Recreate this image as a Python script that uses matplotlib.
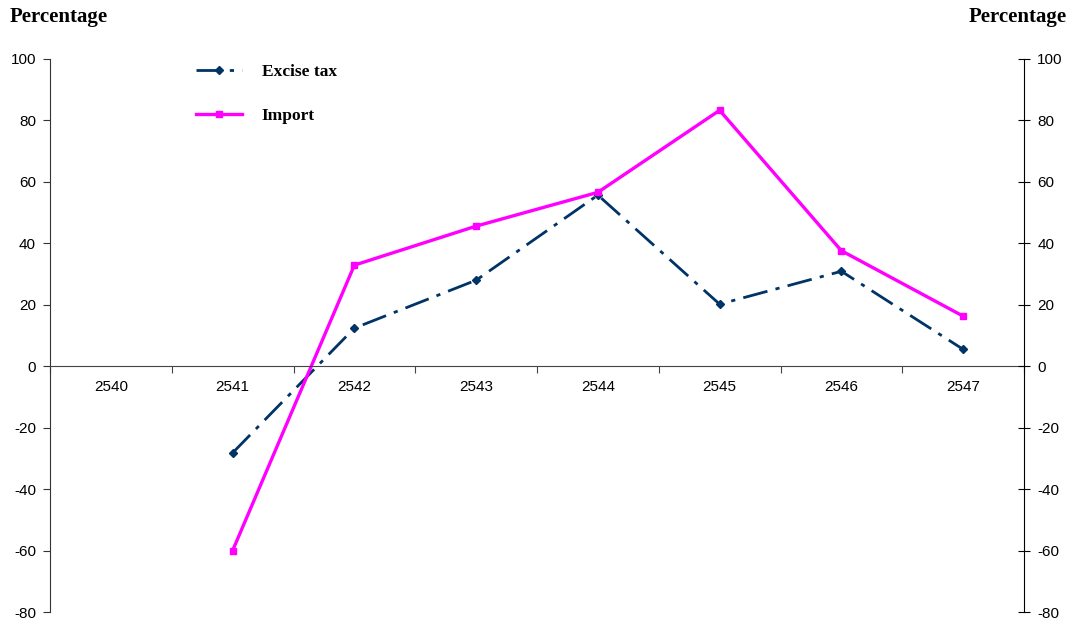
import matplotlib.pyplot as plt
import numpy as np

years = ['2540', '2541', '2542', '2543', '2544', '2545', '2546', '2547']
excise_tax = [np.nan, -28.2, 12.4, 28.0, 55.7, 20.2, 30.9, 5.5]
imports = [np.nan, -60.0, 32.9, 45.6, 56.6, 83.3, 37.6, 16.3]


def main():
    plt.rcParams['axes.unicode_minus'] = False
    fig = plt.figure(figsize=(10.74, 6.24), dpi=100)
    ax = fig.add_axes([50 / 1074, 12 / 624, 974 / 1074, 553 / 624])

    x = np.arange(len(years))
    ax.plot(x, excise_tax, color='#003366', lw=2.0,
            linestyle=(0, (9, 3, 1.5, 3)),
            marker='D', markersize=4, label='Excise tax')
    ax.plot(x, imports, color='#FF00FF', lw=2.4,
            marker='s', markersize=5, label='Import')

    ax.set_xlim(-0.5, len(years) - 0.5)
    ax.set_ylim(-80, 100)
    ax.set_yticks(range(-80, 101, 20))

    # x axis sits on zero, ticks on the category boundaries
    ax.spines['top'].set_visible(False)
    ax.spines['right'].set_visible(False)
    ax.spines['bottom'].set_position(('data', 0))
    ax.spines['bottom'].set_color('#444444')
    ax.spines['left'].set_color('#333333')
    ax.set_xticks(np.arange(len(years) + 1) - 0.5)
    ax.set_xticklabels([])
    ax.set_xticks(x, minor=True)
    ax.set_xticklabels(years, minor=True)
    ax.tick_params(axis='x', which='major', length=5, color='#444444')
    ax.tick_params(axis='x', which='minor', length=0, pad=10)
    ax.tick_params(axis='y', length=5, color='#333333', pad=5)
    for lab in ax.get_xticklabels(minor=True) + ax.get_yticklabels():
        lab.set_fontfamily('Liberation Sans')
        lab.set_fontsize(11)

    ax2 = ax.twinx()
    ax2.set_ylim(-80, 100)
    ax2.set_yticks(range(-80, 101, 20))
    for side in ['top', 'left', 'bottom']:
        ax2.spines[side].set_visible(False)
    ax2.tick_params(axis='y', direction='inout', length=9, pad=5)
    for lab in ax2.get_yticklabels():
        lab.set_fontfamily('Liberation Sans')
        lab.set_fontsize(11)

    fig.text(10 / 1074, 1 - 17 / 624, 'Percentage', family='Liberation Serif',
             fontweight='bold', fontsize=15, va='center', ha='left')
    fig.text(1067 / 1074, 1 - 17 / 624, 'Percentage', family='Liberation Serif',
             fontweight='bold', fontsize=15, va='center', ha='right')

    ax.legend(loc='upper left', bbox_to_anchor=(180 / 1074, 1 - 48 / 624),
              bbox_transform=fig.transFigure, frameon=False,
              handlelength=2.65, handletextpad=1.15, labelspacing=1.6,
              prop={'family': 'Liberation Serif', 'weight': 'bold',
                    'size': 12.5})

    fig.savefig('out.png', dpi=100)


if __name__ == '__main__':
    main()
